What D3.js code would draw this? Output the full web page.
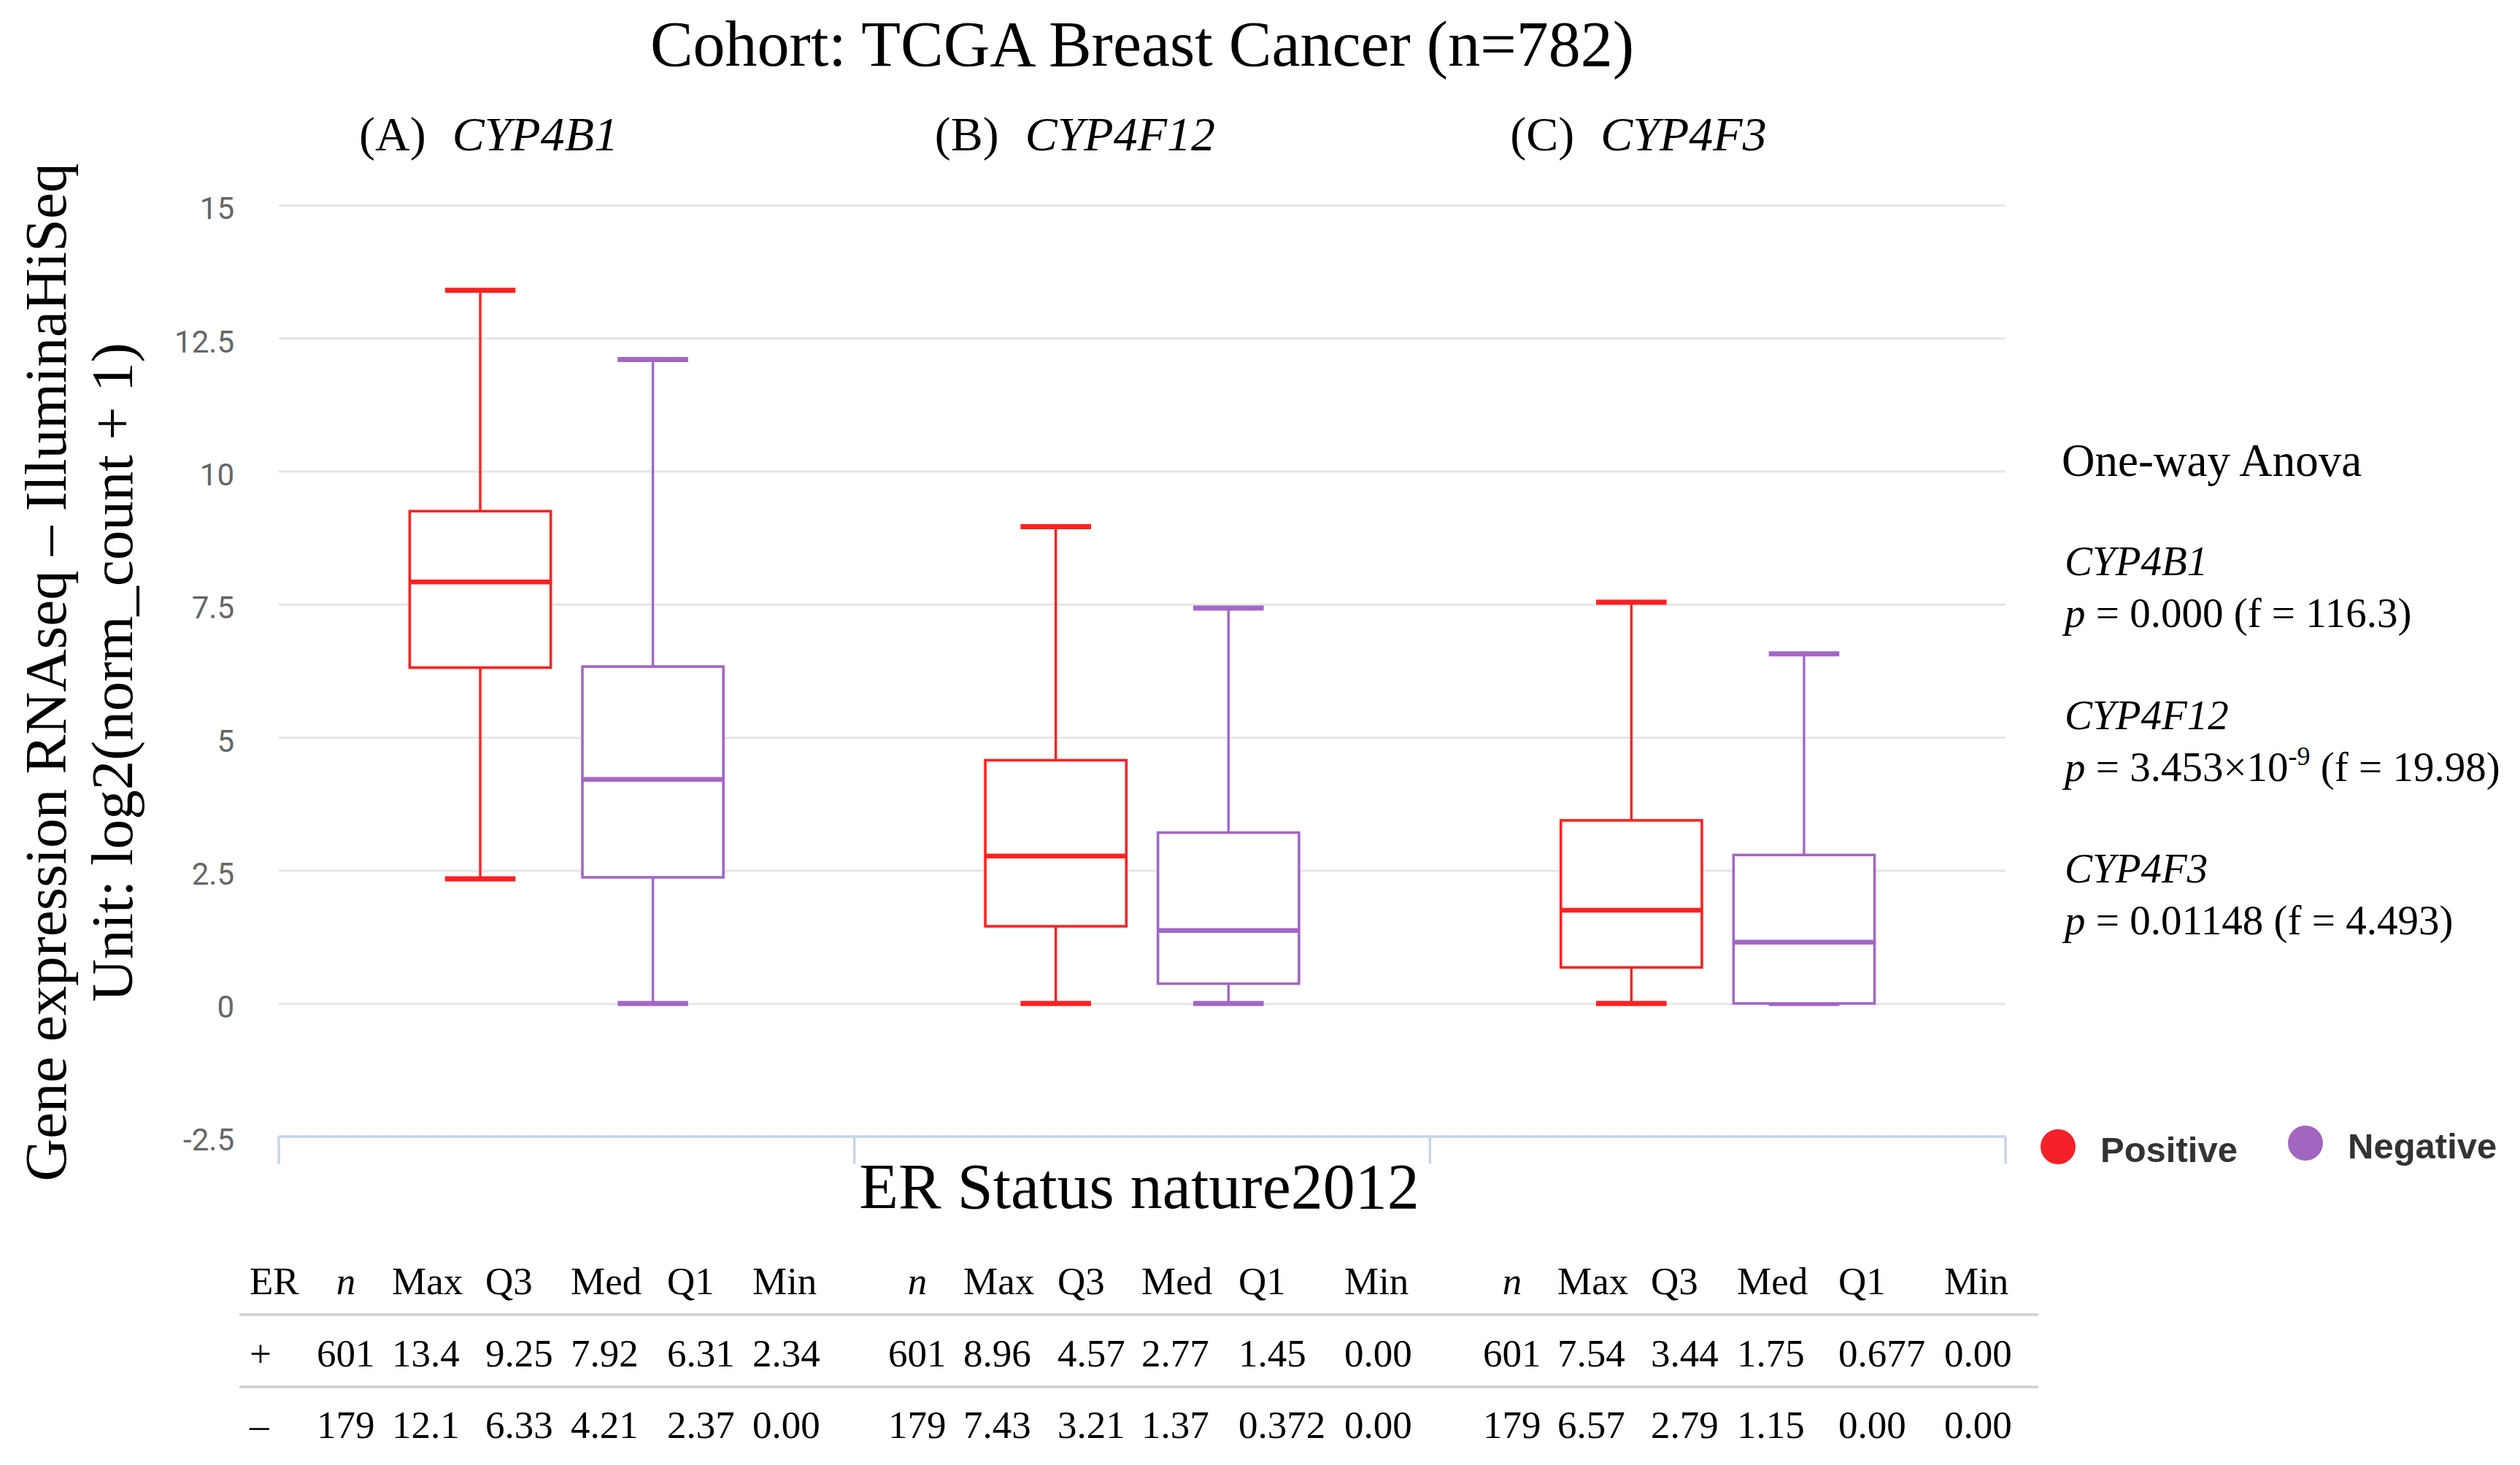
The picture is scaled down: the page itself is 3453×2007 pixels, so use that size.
<!DOCTYPE html>
<html>
<head>
<meta charset="utf-8">
<title>Cohort: TCGA Breast Cancer (n=782)</title>
<script src="https://cdn.jsdelivr.net/npm/d3@7"></script>
<style>
  html, body { margin: 0; padding: 0; background: #fff; }
  svg { display: block; }
  .serif { font-family: "Palatino Linotype", "Book Antiqua", Palatino, "Liberation Serif", serif; fill: #000; }
  .yaxis text { font-family: Roboto, "Liberation Sans", sans-serif; font-size: 42px; fill: #666; }
  .legend text { font-family: "Liberation Sans", Arial, sans-serif; font-weight: bold; font-size: 49px; fill: #333; }
</style>
</head>
<body>
<div id="chart"></div>
<script>
'use strict';

/**** Data ****/
var genes = ['CYP4B1', 'CYP4F12', 'CYP4F3'];
var groups = ['Positive', 'Negative'];
var groupSigns = ['+', '–'];

var posN   = [601, 601, 601];
var posMax = [13.4, 8.96, 7.54];
var posQ3  = [9.25, 4.57, 3.44];
var posMed = [7.92, 2.77, 1.75];
var posQ1  = [6.31, 1.45, 0.677];
var posMin = [2.34, 0, 0];

var negN   = [179, 179, 179];
var negMax = [12.1, 7.43, 6.57];
var negQ3  = [6.33, 3.21, 2.79];
var negMed = [4.21, 1.37, 1.15];
var negQ1  = [2.37, 0.372, 0];
var negMin = [0, 0, 0];

var yTicks = [-2.5, 0, 2.5, 5, 7.5, 10, 12.5, 15];
var panelLetters = ['(A)', '(B)', '(C)'];

var anovaP = [0.000, 3.453e-9, 0.01148];
var anovaF = [116.3, 19.98, 4.493];

var tableHeads = ['n', 'Max', 'Q3', 'Med', 'Q1', 'Min'];

/**** Layout ****/
var W = 3453, H = 2007;
var colors = { Positive: '#ff2121', Negative: '#a366c6' };
var legendColors = { Positive: '#f52128', Negative: '#a066c0' };
// left edge of each table column, per gene block
var tableCols = [
    [434, 537, 665, 782, 914, 1031],
    [1217, 1320, 1449, 1564, 1697, 1842],
    [2032, 2134, 2262, 2380, 2519, 2664]
];

var svg = d3.select('#chart').append('svg')
    .attr('width', W)
    .attr('height', H)
    .attr('viewBox', '0 0 ' + W + ' ' + H);

var y = d3.scaleLinear().domain([-2.5, 15]).range([1557, 281]);
var x = d3.scaleBand().domain(genes).range([382, 2748]);
var bw = x.bandwidth();
var xInner = d3.scalePoint().domain(groups).range([0, bw]).padding(7 / 6);
var boxW = bw * 0.245;

// build one row per box from the arrays
var boxes = [];
genes.forEach(function(g, i) {
    boxes.push({ gene: g, group: 'Positive', n: posN[i], max: posMax[i], q3: posQ3[i], med: posMed[i], q1: posQ1[i], min: posMin[i] });
    boxes.push({ gene: g, group: 'Negative', n: negN[i], max: negMax[i], q3: negQ3[i], med: negMed[i], q1: negQ1[i], min: negMin[i] });
});
var cx = function(d) { return x(d.gene) + xInner(d.group); };

/* Y axis with gridlines */
var yAxis = svg.append('g')
    .attr('class', 'yaxis')
    .attr('transform', 'translate(' + x.range()[0] + ',0)')
    .call(d3.axisLeft(y)
        .tickValues(yTicks)
        .tickFormat(function(d) { return String(d); }) // plain hyphen for -2.5
        .tickSize(-(x.range()[1] - x.range()[0]))
        .tickPadding(61));
yAxis.select('.domain').remove();
yAxis.selectAll('.tick line')
    .attr('stroke', '#e6e6e6')
    .attr('stroke-width', 3);
yAxis.selectAll('.tick text').attr('dy', '0.45em');

/* X axis: baseline plus ticks at band boundaries */
var xAxisG = svg.append('g').attr('class', 'xaxis');
xAxisG.append('line')
    .attr('x1', x.range()[0]).attr('x2', x.range()[1])
    .attr('y1', y(-2.5)).attr('y2', y(-2.5))
    .attr('stroke', '#c6d5ea').attr('stroke-width', 3.5);
xAxisG.selectAll('.xtick')
    .data(genes.map(function(g) { return x(g); }).concat([x.range()[1]]))
    .enter().append('line')
    .attr('class', 'xtick')
    .attr('x1', function(d) { return d; }).attr('x2', function(d) { return d; })
    .attr('y1', y(-2.5)).attr('y2', y(-2.5) + 37)
    .attr('stroke', '#c6d5ea').attr('stroke-width', 3.5);

/* Boxes */
var boxG = svg.append('g').attr('class', 'boxes')
    .selectAll('g').data(boxes).enter().append('g')
    .attr('stroke', function(d) { return colors[d.group]; });

boxG.append('line') // upper whisker
    .attr('x1', cx).attr('x2', cx)
    .attr('y1', function(d) { return y(d.max); })
    .attr('y2', function(d) { return y(d.q3); })
    .attr('stroke-width', 3.4);
boxG.append('line') // lower whisker
    .attr('x1', cx).attr('x2', cx)
    .attr('y1', function(d) { return y(d.q1); })
    .attr('y2', function(d) { return y(d.min); })
    .attr('stroke-width', 3.4);
boxG.selectAll('.cap')
    .data(function(d) { return [{ d: d, v: d.max }, { d: d, v: d.min }]; })
    .enter().append('line')
    .attr('class', 'cap')
    .attr('x1', function(c) { return cx(c.d) - boxW / 4; })
    .attr('x2', function(c) { return cx(c.d) + boxW / 4; })
    .attr('y1', function(c) { return y(c.v); })
    .attr('y2', function(c) { return y(c.v); })
    .attr('stroke-width', 7);
boxG.append('rect')
    .attr('x', function(d) { return cx(d) - boxW / 2; })
    .attr('y', function(d) { return y(d.q3); })
    .attr('width', boxW)
    .attr('height', function(d) { return y(d.q1) - y(d.q3); })
    .attr('fill', '#fff')
    .attr('stroke-width', 3.6);
boxG.append('line') // median
    .attr('x1', function(d) { return cx(d) - boxW / 2; })
    .attr('x2', function(d) { return cx(d) + boxW / 2; })
    .attr('y1', function(d) { return y(d.med); })
    .attr('y2', function(d) { return y(d.med); })
    .attr('stroke-width', 6.5);

/* Titles */
svg.append('text').attr('class', 'serif')
    .attr('x', 1565).attr('y', 90)
    .attr('text-anchor', 'middle')
    .style('font-size', '88px')
    .text('Cohort: TCGA Breast Cancer (n=782)');

var panel = svg.append('g').selectAll('text').data(genes).enter().append('text')
    .attr('class', 'serif')
    .attr('x', function(g) { return x(g) + 110; })
    .attr('y', 206)
    .style('font-size', '66px');
panel.append('tspan').text(function(g, i) { return panelLetters[i]; });
panel.append('tspan').attr('dx', 36).style('font-style', 'italic').text(function(g) { return g; });

var yTitle = svg.append('text').attr('class', 'serif')
    .attr('transform', 'translate(0,921) rotate(-90)')
    .attr('text-anchor', 'middle')
    .style('font-size', '81px');
yTitle.append('tspan').attr('x', 0).attr('y', 90).text('Gene expression RNAseq – IlluminaHiSeq');
yTitle.append('tspan').attr('x', 0).attr('y', 181).text('Unit: log2(norm_count + 1)');

svg.append('text').attr('class', 'serif')
    .attr('x', 1561).attr('y', 1655)
    .attr('text-anchor', 'middle')
    .style('font-size', '88px')
    .text('ER Status nature2012');

/* Summary table */
var fmtVal = d3.format('.3r');
var table = svg.append('g').attr('class', 'serif').style('font-size', '53px');
var rowY = { head: 1773, Positive: 1872, Negative: 1970 };

table.append('text').attr('x', 342).attr('y', rowY.head).text('ER');
groups.forEach(function(grp, k) {
    table.append('text').attr('x', 342).attr('y', rowY[grp]).text(groupSigns[k]);
});
genes.forEach(function(g, i) {
    var cols = tableCols[i];
    tableHeads.forEach(function(h, j) {
        var t = table.append('text').attr('y', rowY.head).text(h);
        if (j === 0) {
            t.attr('x', cols[0] + 40).attr('text-anchor', 'middle').style('font-style', 'italic');
        } else {
            t.attr('x', cols[j]);
        }
    });
    boxes.filter(function(b) { return b.gene === g; }).forEach(function(b) {
        var vals = [String(b.n), fmtVal(b.max), fmtVal(b.q3), fmtVal(b.med), fmtVal(b.q1), fmtVal(b.min)];
        vals.forEach(function(v, j) {
            table.append('text').attr('x', cols[j]).attr('y', rowY[b.group]).text(v);
        });
    });
});
table.selectAll('.rule').data([1801, 1900]).enter().append('line')
    .attr('class', 'rule')
    .attr('x1', 328).attr('x2', 2793)
    .attr('y1', function(d) { return d; }).attr('y2', function(d) { return d; })
    .attr('stroke', '#cfcfcf').attr('stroke-width', 3.5);

/* One-way ANOVA annotations */
var stats = svg.append('g').attr('class', 'serif');
stats.append('text').attr('x', 2825).attr('y', 652).style('font-size', '63px').text('One-way Anova');
genes.forEach(function(g, i) {
    var base = 788 + i * 210.5;
    stats.append('text').attr('x', 2829).attr('y', base)
        .style('font-size', '57px').style('font-style', 'italic').text(g);
    var t = stats.append('text').attr('x', 2829).attr('y', base + 71).style('font-size', '57px');
    t.append('tspan').style('font-style', 'italic').text('p');
    var p = anovaP[i];
    if (p > 0 && p < 1e-4) {
        var e = Math.floor(Math.log10(p));
        t.append('tspan').text(' = ' + d3.format('.4')(p / Math.pow(10, e)) + '×10');
        t.append('tspan').attr('dy', -22).style('font-size', '36px').text(String(e));
        t.append('tspan').attr('dy', 22).text(' (f = ' + anovaF[i] + ')');
    } else {
        t.append('tspan').text(' = ' + (p === 0 ? '0.000' : String(p)) + ' (f = ' + anovaF[i] + ')');
    }
});

/* Legend */
var legend = svg.append('g').attr('class', 'legend')
    .selectAll('g').data(groups).enter().append('g')
    .attr('transform', function(d, i) { return 'translate(' + (2820 + i * 339) + ',' + (1571 - i * 5) + ')'; });
legend.append('circle').attr('r', 24).attr('fill', function(d) { return legendColors[d]; });
legend.append('text').attr('x', 58).attr('y', 21).text(function(d) { return d; });
</script>
</body>
</html>
